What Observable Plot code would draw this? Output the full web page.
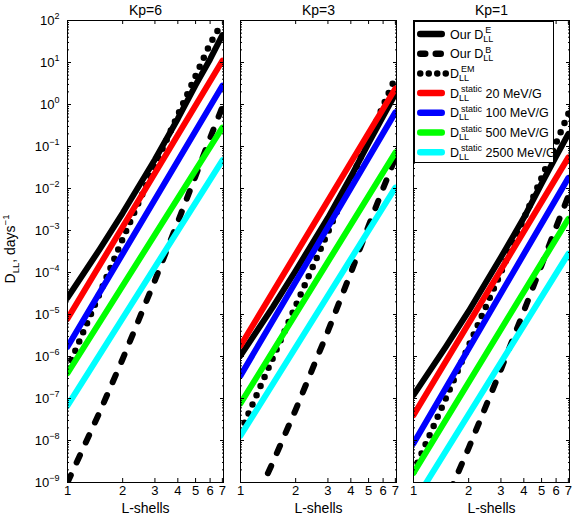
<!DOCTYPE html>
<html>
<head>
<meta charset="utf-8">
<script src="https://cdn.jsdelivr.net/npm/d3@7"></script>
<script src="https://cdn.jsdelivr.net/npm/@observablehq/plot@0.6"></script>
<style>
  body { margin: 0; background: #fff; }
  #wrap { position: relative; width: 573px; height: 520px; }
</style>
</head>
<body>
<div id="wrap"></div>
<script>
// ---------- data ----------
const panels = ["Kp=6", "Kp=3", "Kp=1"];
const lGrid = [1, 1.5, 2, 3, 4, 5, 6, 7];   // L-shells where curved series were read
const lEnds = [1, 7];                        // L-shells for the straight static lines
const xTicks = [1, 2, 3, 4, 5, 6, 7];
const yTicks = [1e-9, 1e-8, 1e-7, 1e-6, 1e-5, 1e-4, 1e-3, 1e-2, 1e-1, 1e0, 1e1, 1e2];

// Our D_LL^E (solid black)
const ourE_Kp6 = [2.5e-5, 3.6e-4, 2.6e-3, 4.9e-2, 0.46, 2.9, 12, 45];
const ourE_Kp3 = [1.05e-6, 1.5e-5, 1.1e-4, 2.0e-3, 1.9e-2, 0.12, 0.52, 1.8];
const ourE_Kp1 = [1.2e-7, 1.7e-6, 1.2e-5, 2.3e-4, 2.0e-3, 1.3e-2, 5.8e-2, 0.20];
// Our D_LL^B (dashed black)
const ourB_Kp6 = [1.0e-9, 4.8e-8, 8.7e-7, 6.5e-5, 1.6e-3, 2.0e-2, 0.16, 0.87];
const ourB_Kp3 = [6.2e-11, 3.0e-9, 5.4e-8, 4.0e-6, 9.8e-5, 1.3e-3, 1.0e-2, 5.4e-2];
const ourB_Kp1 = [7.6e-12, 3.6e-10, 6.6e-9, 4.9e-7, 1.2e-5, 1.5e-4, 1.2e-3, 6.6e-3];
// D_LL^EM (dotted black)
const em_Kp6 = [5.0e-7, 3.2e-5, 6.3e-4, 3.5e-2, 0.56, 4.8, 28, 90];
const em_Kp3 = [1.6e-8, 9.1e-7, 1.6e-5, 9.1e-4, 1.6e-2, 0.15, 0.93, 4.4];
const em_Kp1 = [1.8e-9, 1.0e-7, 1.8e-6, 1.0e-4, 1.9e-3, 1.8e-2, 0.12, 0.6];
// D_LL^static at 20, 100, 500, 2500 MeV/G (values at L=1 and L=7)
const s20_Kp6 = [7.9e-6, 11],   s100_Kp6 = [1.7e-6, 2.8],   s500_Kp6 = [4.0e-7, 0.28],   s2500_Kp6 = [6.8e-8, 0.047];
const s20_Kp3 = [1.8e-6, 2.4],  s100_Kp3 = [3.5e-7, 0.65],  s500_Kp3 = [7.6e-8, 0.072],  s2500_Kp3 = [1.3e-8, 0.0105];
const s20_Kp1 = [4.0e-8, 0.055], s100_Kp1 = [8.5e-9, 0.018], s500_Kp1 = [1.7e-9, 1.9e-3], s2500_Kp1 = [3.2e-10, 2.8e-4];

const staticKeys = ["20 MeV/G", "100 MeV/G", "500 MeV/G", "2500 MeV/G"];
const staticColors = ["#ff0000", "#0000ff", "#00ff00", "#00ffff"];

// ---------- table ----------
const rows = [];
function add(panel, series, Ls, Ds) { Ls.forEach((L, i) => rows.push({panel, series, L, D: Ds[i]})); }
add("Kp=6", "E", lGrid, ourE_Kp6); add("Kp=3", "E", lGrid, ourE_Kp3); add("Kp=1", "E", lGrid, ourE_Kp1);
add("Kp=6", "B", lGrid, ourB_Kp6); add("Kp=3", "B", lGrid, ourB_Kp3); add("Kp=1", "B", lGrid, ourB_Kp1);
add("Kp=6", "EM", lGrid, em_Kp6); add("Kp=3", "EM", lGrid, em_Kp3); add("Kp=1", "EM", lGrid, em_Kp1);
const staticByPanel = {
  "Kp=6": [s20_Kp6, s100_Kp6, s500_Kp6, s2500_Kp6],
  "Kp=3": [s20_Kp3, s100_Kp3, s500_Kp3, s2500_Kp3],
  "Kp=1": [s20_Kp1, s100_Kp1, s500_Kp1, s2500_Kp1]
};
staticKeys.forEach((k, j) => panels.forEach(p => add(p, k, lEnds, staticByPanel[p][j])));

const yMinor = [];
yTicks.slice(0, -1).forEach(t => { for (let m = 2; m <= 9; m++) yMinor.push(m * t); });

const FONT = '"Liberation Sans", Arial, Helvetica, sans-serif';
const FRAME_H = 520 - 20 - 38;

const chart = Plot.plot({
  width: 573, height: 520,
  marginLeft: 66, marginRight: 4, marginTop: 20, marginBottom: 38,
  facet: {marginTop: 0, marginRight: 0, marginBottom: 0, marginLeft: 0},
  style: {fontFamily: FONT, fontSize: "13px", background: "white", color: "black"},
  x: {type: "log", domain: [1, 7.1], axis: null},
  y: {type: "log", domain: [1e-9, 1e2]},
  fx: {domain: panels, paddingInner: 0.1, paddingOuter: 0},
  color: {domain: staticKeys, range: staticColors},
  marks: [
    Plot.line(rows.filter(d => d.series === "E"), {x: "L", y: "D", fx: "panel", stroke: "black", strokeWidth: 6, strokeLinecap: "round", clip: true}),
    Plot.line(rows.filter(d => d.series === "B"), {x: "L", y: "D", fx: "panel", stroke: "black", strokeWidth: 6, strokeDasharray: "8,14", strokeLinecap: "round", clip: true}),
    Plot.line(rows.filter(d => d.series === "EM"), {x: "L", y: "D", fx: "panel", stroke: "black", strokeWidth: 6.5, strokeDasharray: "0,10", strokeLinecap: "round", clip: true}),
    Plot.line(rows.filter(d => staticKeys.includes(d.series)), {x: "L", y: "D", fx: "panel", z: "series", stroke: "series", strokeWidth: 6, strokeLinecap: "round", clip: true}),
    Plot.frame({stroke: "black"}),
    // inward y ticks on both sides of every panel
    Plot.axisY(yMinor, {anchor: "left", tickSize: 2, dx: 2, fill: "none", facetAnchor: null}),
    Plot.axisY(yMinor, {anchor: "right", tickSize: 2, dx: -2, fill: "none", facetAnchor: null}),
    Plot.axisY(yTicks, {anchor: "left", tickSize: 4, dx: 4, fill: "none", facetAnchor: null}),
    Plot.axisY(yTicks, {anchor: "right", tickSize: 4, dx: -4, fill: "none", facetAnchor: null}),
    Plot.axisY(yTicks, {anchor: "left", tickSize: 0, tickPadding: 8, stroke: "none", fontSize: 13, label: null,
      tickFormat: d => "10^" + Math.round(Math.log10(d))}),
    // inward x ticks at bottom and top, and labels
    Plot.ruleX(xTicks, {x: d => d, stroke: "black", insetTop: FRAME_H - 4}),
    Plot.ruleX(xTicks, {x: d => d, stroke: "black", insetBottom: FRAME_H - 4}),
    Plot.text(xTicks, {x: d => d, text: d => String(d), frameAnchor: "bottom", dy: 12, fontSize: 13}),
    Plot.axisFx({anchor: "top", tickSize: 0, tickPadding: 6, label: null, fontSize: 14}),
    Plot.text(["L-shells"], {text: d => d, frameAnchor: "bottom", dy: 30, fontSize: 14})
  ]
});
document.getElementById("wrap").appendChild(chart);

// ---------- rich text (superscripts/subscripts) ----------
const NS = "http://www.w3.org/2000/svg";
function el(tag, attrs, parent) {
  const e = document.createElementNS(NS, tag);
  for (const k in attrs) e.setAttribute(k, attrs[k]);
  if (parent) parent.appendChild(e);
  return e;
}
function tspan(parent, text, attrs = {}) { const t = el("tspan", attrs, parent); t.textContent = text; return t; }

chart.querySelectorAll('g[aria-label="y-axis tick label"] text').forEach(t => {
  const k = t.textContent.split("^")[1];
  t.textContent = "10";
  tspan(t, k.replace("-", "\u2212"), {"font-size": 9, dy: -6});
});

// y-axis label: D_LL, days^-1
const ylab = el("text", {transform: "translate(15,249) rotate(-90)", "text-anchor": "middle", "font-size": 14, "font-family": FONT, fill: "black"}, chart);
tspan(ylab, "D");
tspan(ylab, "LL", {"font-size": 9.5, dy: 4});
tspan(ylab, ", days", {dy: -4});
tspan(ylab, "\u22121", {"font-size": 9.5, dy: -6});

// legend
const lg = el("g", {"font-family": FONT, "font-size": 12.5, fill: "black", "text-anchor": "start"}, chart);
el("rect", {x: 414.5, y: 21.5, width: 139, height: 141, fill: "white", stroke: "black", "stroke-width": 1}, lg);
const legendItems = [
  {pre: "Our D", sup: "E", post: "", stroke: "black", dash: null},
  {pre: "Our D", sup: "B", post: "", stroke: "black", dash: "5,10.5"},
  {pre: "D", sup: "EM", post: "", stroke: "black", dash: "0,8.5"},
  ...staticKeys.map((k, j) => ({pre: "D", sup: "static", post: " " + k, stroke: staticColors[j], dash: null}))
];
legendItems.forEach((it, i) => {
  const y = 34 + 19.7 * i;
  const line = el("line", {x1: 420.25, x2: it.dash === "0,8.5" ? 446 : 441.75, y1: y, y2: y, stroke: it.stroke,
    "stroke-width": 6.5, "stroke-linecap": "round"}, lg);
  if (it.dash) line.setAttribute("stroke-dasharray", it.dash);
  const t = el("text", {x: 450, y: y + 4.5, "text-anchor": "start"}, lg);
  tspan(t, it.pre);
  tspan(t, "LL", {"font-size": 9, dy: 3});
  tspan(t, it.sup, {"font-size": 9, dx: -8, dy: -8.5});
  if (it.post) tspan(t, it.post, {dy: 5.5});
});
</script>
</body>
</html>
